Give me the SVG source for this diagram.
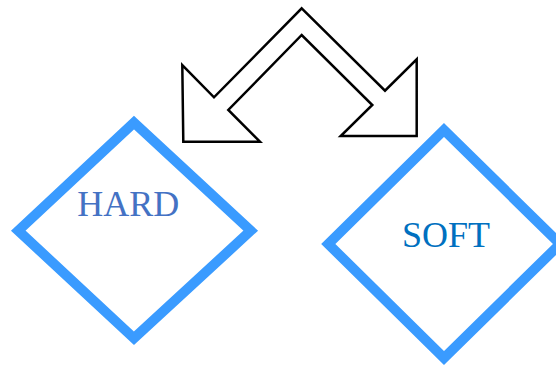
<svg xmlns="http://www.w3.org/2000/svg" width="556" height="368" viewBox="0 0 556 368">
<style>
.dia{fill:none;stroke:#3a9bff;stroke-width:10;stroke-linejoin:miter}
.lbl{font-family:"Liberation Serif","Times New Roman",serif;font-size:36px;text-anchor:middle}
.arr{fill:#fff;stroke:#000;stroke-width:2.5;stroke-linejoin:miter}
</style>
<rect width="556" height="368" fill="#fff"/>
<g id="connectors">
<polygon class="arr" points="301.7,8.3 385,90.7 416.7,59.3 416.7,136 340.7,136 372.3,105 301.7,35 228.3,110 260,141.7 183.3,141.7 182.3,65 214,97.3"/>
</g>
<g id="hard">
<polygon class="dia" points="134,122.7 250.7,230.7 134,338.3 18.3,230.7"/>
<text class="lbl" x="128.3" y="216" fill="#4472c4">HARD</text>
</g>
<g id="soft">
<polygon class="dia" points="444,130 560,244 444,358 328.3,244"/>
<text class="lbl" x="446" y="246.7" fill="#0070c0">SOFT</text>
</g>
</svg>
